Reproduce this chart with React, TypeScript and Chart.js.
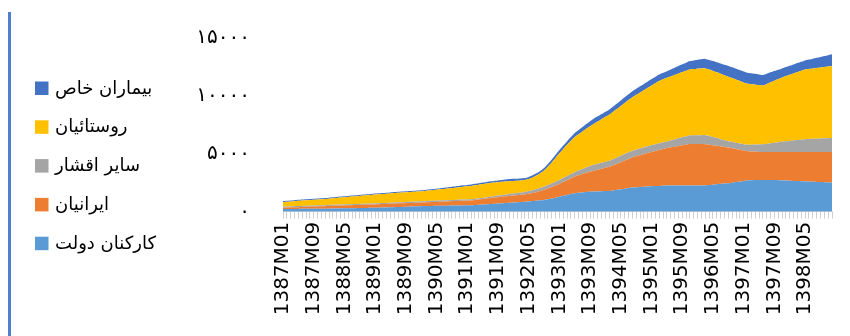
import React, { useEffect, useRef } from "react";
import { Chart, registerables } from "chart.js";

Chart.register(...registerables);

const years = [1387, 1388, 1389, 1390, 1391, 1392, 1393, 1394, 1395, 1396, 1397, 1398];
const months = ["01", "02", "03", "04", "05", "06", "07", "08", "09", "10", "11", "12"];
const categories: string[] = [];
for (const y of years) for (const m of months) categories.push(`${y}M${m}`);

const seriesNames = ["کارکنان دولت", "ایرانیان", "سایر اقشار", "روستائیان", "بیماران خاص"];
const seriesColors = ["#5B9BD5", "#ED7D31", "#A5A5A5", "#FFC000", "#4472C4"];

const yTickValues = [0, 5000, 10000, 15000];
const yTickLabels = ["۰", "۵۰۰۰", "۱۰۰۰۰", "۱۵۰۰۰"];

const karkonanDolat = [
  234, 236, 238, 240, 242, 244, 246, 248, 250, 252, 255, 257, 260,
  267, 274, 281, 288, 294, 301, 308, 314, 321, 327, 334, 340, 347,
  358, 370, 381, 392, 404, 415, 426, 437, 449, 460, 471, 483, 494,
  500, 505, 511, 516, 522, 527, 533, 538, 544, 549, 555,
  578, 600, 623, 645, 668,
  690, 713, 735, 758, 780,
  802, 824, 845, 867,
  890, 915, 945, 980, 1020,
  1075, 1140, 1215, 1295,
  1374, 1448, 1521, 1595,
  1630, 1665, 1700, 1720, 1734,
  1750, 1765, 1780, 1795,
  1840, 1890, 1940, 1990, 2040, 2081,
  2105, 2130, 2150, 2170, 2190, 2210, 2225, 2240, 2254,
  2255, 2255, 2254, 2254, 2254, 2254,
  2258, 2262, 2267, 2272,
  2300, 2335, 2370, 2405, 2435, 2462,
  2510, 2560, 2610, 2660, 2705,
  2720, 2735, 2745, 2748,
  2745, 2738, 2728, 2717, 2705,
  2690, 2675, 2660, 2645, 2630, 2618,
  2603, 2588, 2573, 2558, 2543, 2528, 2514,
];

const iranian = [
  113, 123, 133, 143, 153, 163, 173, 183, 193, 203, 213, 223, 234,
  239, 243, 248, 253, 257, 262, 267, 271, 276, 281, 285, 290, 295,
  297, 299, 301, 303, 305, 307, 309, 311, 313, 315, 317, 319, 321,
  330, 338, 347, 355, 364, 373, 381, 390, 398, 407, 416,
  437, 458, 478, 499, 520,
  532, 545, 557, 569, 581,
  592, 603, 613, 624,
  660, 700, 745, 800, 860,
  925, 990, 1050, 1105,
  1186, 1270, 1355, 1439,
  1510, 1581, 1653, 1724, 1795,
  1866, 1938, 2010, 2081,
  2168, 2255, 2341, 2428, 2515, 2601,
  2675, 2750, 2820, 2895, 2965, 3035, 3105, 3175, 3243,
  3300, 3360, 3420, 3480, 3535, 3589,
  3590, 3585, 3572, 3555,
  3480, 3400, 3320, 3240, 3160, 3087,
  2980, 2860, 2740, 2620, 2514,
  2480, 2450, 2420, 2402,
  2405, 2415, 2425, 2435, 2445,
  2460, 2475, 2490, 2505, 2518, 2532,
  2547, 2562, 2577, 2592, 2607, 2622, 2636,
];

const sayerAghshar = [
  87, 87, 87, 87, 87, 87, 87, 87, 87, 87, 87, 87, 87,
  87, 87, 87, 87, 87, 87, 87, 87, 87, 87, 87, 87, 87,
  89, 91, 93, 95, 97, 99, 101, 103, 105, 107, 109, 111, 113,
  112, 111, 110, 109, 108, 108, 107, 106, 105, 104, 104,
  106, 108, 110, 112, 113,
  125, 137, 149, 161, 173,
  184, 195, 206, 217,
  231, 245, 258, 272, 286,
  301, 316, 332, 347,
  356, 364, 373, 381,
  409, 437, 465, 492, 520,
  520, 520, 520, 520,
  530, 540, 550, 560, 571, 581,
  580, 579, 578, 577, 576, 575, 574, 573, 572,
  601, 630, 659, 688, 717, 746,
  755, 763, 772, 780,
  750, 710, 665, 620, 570, 530,
  529, 538, 547, 555, 564,
  592, 620, 648, 676,
  719, 763, 806, 850, 893,
  929, 965, 1001, 1038, 1074, 1110,
  1125, 1140, 1155, 1170, 1185, 1200, 1214,
];

const roostaeian = [
  407, 419, 430, 442, 453, 465, 476, 488, 500, 511, 523, 534, 546,
  564, 582, 600, 618, 636, 654, 672, 690, 708, 726, 744, 762, 780,
  789, 797, 806, 815, 823, 832, 841, 850, 858, 867, 876, 884, 893,
  917, 940, 964, 987, 1011, 1034, 1058, 1082, 1105, 1129, 1153,
  1160, 1167, 1174, 1181, 1188,
  1171, 1153, 1136, 1118, 1101,
  1080, 1055, 1035, 1025,
  1045, 1095, 1170, 1270, 1400,
  1590, 1810, 2050, 2290,
  2500, 2690, 2870, 3035,
  3139, 3243, 3347, 3451, 3555,
  3663, 3771, 3880, 3988,
  4093, 4199, 4304, 4410, 4515, 4621,
  4730, 4840, 4950, 5060, 5170, 5280, 5390, 5445, 5497,
  5530, 5565, 5600, 5635, 5665, 5696,
  5715, 5735, 5750, 5766,
  5740, 5710, 5680, 5650, 5615, 5583,
  5520, 5455, 5390, 5325, 5263,
  5215, 5165, 5118, 5072,
  5167, 5263, 5358, 5454, 5549,
  5630, 5710, 5790, 5870, 5950, 6026,
  6052, 6078, 6104, 6130, 6156, 6182, 6208,
];

const bimaranKhas = [
  87, 87, 87, 87, 87, 87, 87, 87, 87, 87, 87, 87, 87,
  87, 87, 87, 87, 87, 87, 87, 87, 87, 87, 87, 87, 87,
  87, 87, 87, 87, 87, 87, 87, 87, 87, 87, 87, 87, 87,
  91, 95, 99, 103, 107, 111, 115, 119, 123, 127, 130,
  130, 130, 130, 130, 130,
  140, 151, 161, 172, 182,
  180, 178, 175, 173,
  180, 187, 194, 201, 208,
  228, 247, 267, 286,
  301, 316, 332, 347,
  364, 382, 399, 417, 434,
  434, 434, 434, 434,
  448, 463, 477, 491, 506, 520,
  526, 532, 537, 543, 549, 555, 560, 566, 572,
  597, 621, 646, 671, 695, 720,
  746, 772, 798, 824,
  840, 856, 872, 887, 903, 919,
  926, 933, 940, 947, 954,
  943, 932, 921, 910,
  884, 858, 832, 806, 780,
  780, 780, 780, 780, 780, 780,
  813, 847, 880, 914, 947, 981, 1014,
];

const seriesData = [karkonanDolat, iranian, sayerAghshar, roostaeian, bimaranKhas];

const legendPlugin = {
  id: "sideLegend",
  afterDraw(chart: any) {
    const ctx = chart.ctx;
    const ds = chart.data.datasets;
    ctx.save();
    ctx.font = "18px 'DejaVu Sans'";
    ctx.textBaseline = "middle";
    ctx.textAlign = "left";
    for (let k = 0; k < ds.length; k++) {
      const d = ds[ds.length - 1 - k];
      const cy = 88 + k * 38.8;
      ctx.fillStyle = d.backgroundColor;
      ctx.fillRect(35, cy - 6.5, 13.5, 13.5);
      ctx.fillStyle = "#000";
      ctx.fillText(d.label, 55, cy + 1);
    }
    ctx.restore();
  },
};

export default function App() {
  const ref = useRef<HTMLCanvasElement>(null);
  useEffect(() => {
    const chart = new Chart(ref.current!, {
      type: "line",
      data: {
        labels: categories,
        datasets: seriesData.map((d, i) => ({
          label: seriesNames[i],
          data: d,
          backgroundColor: seriesColors[i],
          borderColor: seriesColors[i],
          borderWidth: 0,
          pointRadius: 0,
          fill: i === 0 ? "origin" : "-1",
          tension: 0.4,
        })),
      },
      options: {
        animation: false,
        responsive: false,
        layout: { padding: { left: 0, right: 18, top: 38, bottom: 0 } },
        plugins: { legend: { display: false }, tooltip: { enabled: false } },
        scales: {
          x: {
            offset: false,
            grid: { display: true, drawOnChartArea: false, drawTicks: true, tickLength: 7, color: "#d0d0d0" },
            border: { display: true, color: "#d9d9d9" },
            ticks: {
              autoSkip: false,
              minRotation: 90,
              maxRotation: 90,
              padding: 3,
              color: "#000",
              font: { family: "'DejaVu Sans'", size: 20 },
              callback: (_v: any, idx: number) => (idx % 8 === 0 ? categories[idx] : ""),
            },
            afterFit: (s: any) => {
              s.height = 124.3;
              s.paddingRight = 0;
              s.paddingLeft = 0;
            },
          },
          y: {
            stacked: true,
            min: 0,
            max: 15000,
            afterBuildTicks: (s: any) => {
              s.ticks = yTickValues.map((v) => ({ value: v }));
            },
            grid: { display: false, drawTicks: false },
            border: { display: false },
            ticks: {
              padding: 33,
              color: "#000",
              font: { family: "'DejaVu Sans'", size: 20 },
              callback: (_v: any, idx: number) => yTickLabels[idx],
            },
            afterFit: (s: any) => {
              s.width = 283;
              s.paddingTop = 0;
              s.paddingBottom = 0;
            },
          },
        },
      },
      plugins: [legendPlugin],
    } as any);
    return () => chart.destroy();
  }, []);
  return (
    <div style={{ position: "absolute", left: 0, top: 0, width: 850, height: 336, background: "#fff" }}>
      <canvas ref={ref} width={850} height={336} style={{ position: "absolute", left: 0, top: 0 }} />
      <div style={{ position: "absolute", left: 8, top: 12, width: 3, height: 324, background: "#4f7fd0" }} />
    </div>
  );
}
